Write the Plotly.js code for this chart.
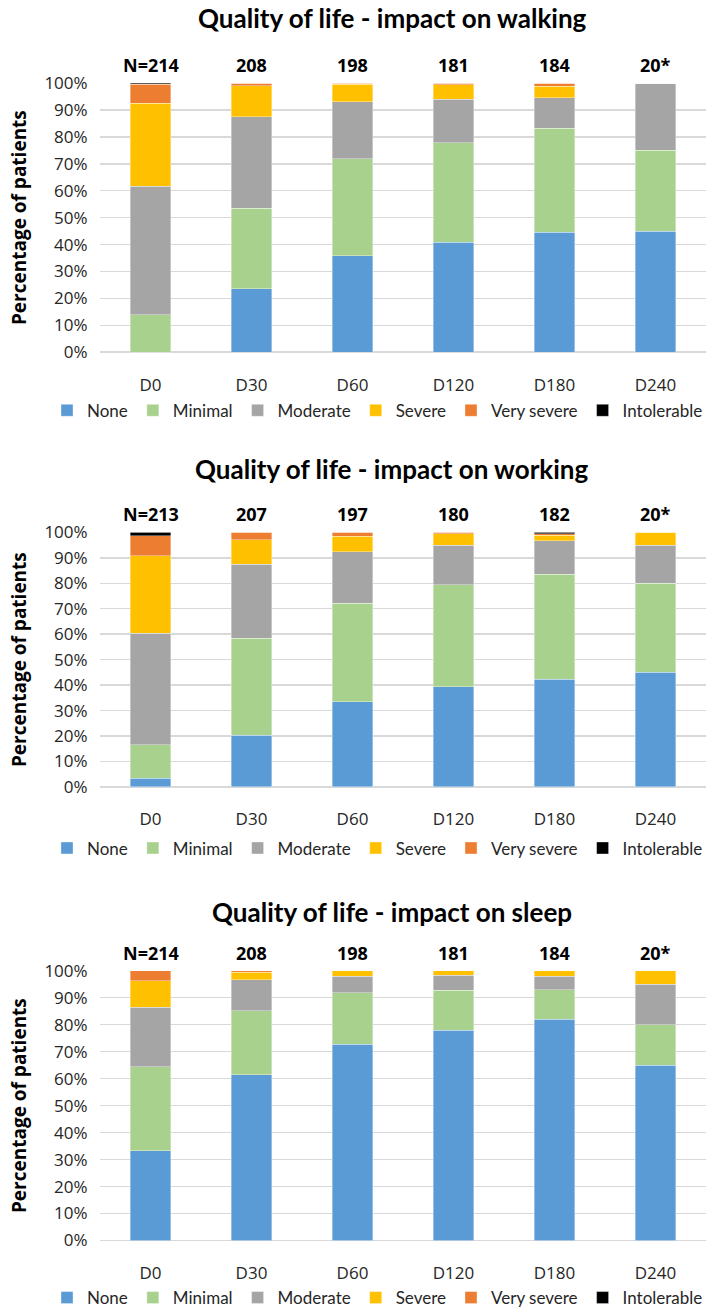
<!DOCTYPE html>
<html>
<head>
<meta charset="utf-8">
<script src="https://cdn.plot.ly/plotly-3.0.1.min.js"></script>
<style>html,body{margin:0;padding:0;background:#fff;}#chart{width:708px;height:1316px;}</style>
</head>
<body>
<div id="chart"></div>
<script>
// ---------- DATA ----------
const categories = ['D0', 'D30', 'D60', 'D120', 'D180', 'D240'];
const levels = ['None', 'Minimal', 'Moderate', 'Severe', 'Very severe', 'Intolerable'];
const chartTitles = ['Quality of life - impact on walking', 'Quality of life - impact on working', 'Quality of life - impact on sleep'];

const walkingN = ['N=214', '208', '198', '181', '184', '20*'];
const walkingNone = [0, 23.6, 35.9, 40.9, 44.6, 45];
const walkingMinimal = [14.0, 29.8, 35.9, 37.0, 38.6, 30];
const walkingModerate = [47.7, 34.1, 21.2, 16.0, 11.4, 25];
const walkingSevere = [30.8, 11.5, 6.5, 5.5, 4.3, 0];
const walkingVerySevere = [7.0, 1.0, 0.5, 0.6, 1.1, 0];
const walkingIntolerable = [0.5, 0, 0, 0, 0, 0];

const workingN = ['N=213', '207', '197', '180', '182', '20*'];
const workingNone = [3.3, 20.3, 33.5, 39.4, 42.3, 45];
const workingMinimal = [13.3, 38.2, 38.6, 40.0, 41.2, 35];
const workingModerate = [43.7, 29.0, 20.3, 15.6, 13.2, 15];
const workingSevere = [30.5, 9.7, 6.1, 4.4, 2.2, 5];
const workingVerySevere = [7.9, 2.8, 1.5, 0.6, 0.5, 0];
const workingIntolerable = [1.3, 0, 0, 0, 0.6, 0];

const sleepN = ['N=214', '208', '198', '181', '184', '20*'];
const sleepNone = [33.2, 61.5, 72.7, 77.9, 82.1, 65];
const sleepMinimal = [31.3, 23.6, 19.2, 14.9, 10.9, 15];
const sleepModerate = [21.9, 11.5, 6.1, 5.5, 4.9, 15];
const sleepSevere = [9.8, 2.9, 2.0, 1.7, 2.1, 5];
const sleepVerySevere = [3.8, 0.5, 0, 0, 0, 0];
const sleepIntolerable = [0, 0, 0, 0, 0, 0];

// ---------- STYLE ----------
const colors = ['#5B9BD5', '#A9D18E', '#A5A5A5', '#FFC000', '#ED7D31', '#000000'];
const H = 1316, W = 708;
const py = px => 1 - px / H;

const charts = [
  {series: [walkingNone, walkingMinimal, walkingModerate, walkingSevere, walkingVerySevere, walkingIntolerable], n: walkingN,
   top: 83.3, bottom: 353.3, titleY: 18, legendY: 412},
  {series: [workingNone, workingMinimal, workingModerate, workingSevere, workingVerySevere, workingIntolerable], n: workingN,
   top: 534, bottom: 789.3, titleY: 470, legendY: 851},
  {series: [sleepNone, sleepMinimal, sleepModerate, sleepSevere, sleepVerySevere, sleepIntolerable], n: sleepN,
   top: 973.7, bottom: 1244.3, titleY: 915, legendY: 1302}
];

const tickFont = {family: 'Open Sans, Noto Sans, sans-serif', size: 17, color: '#262626'};
const traces = [];
const layout = {
  width: W, height: H,
  margin: {l: 0, r: 0, t: 0, b: 0},
  paper_bgcolor: '#fff', plot_bgcolor: '#fff',
  barmode: 'stack', bargap: 0.6,
  annotations: [],
  showlegend: true
};

charts.forEach((c, i) => {
  const sfx = i === 0 ? '' : String(i + 1);
  const xa = 'x' + sfx, ya = 'y' + sfx, lg = 'legend' + sfx;
  c.series.forEach((vals, k) => {
    traces.push({
      type: 'bar', x: categories, y: vals.map(v => v / 100), name: levels[k],
      xaxis: xa, yaxis: ya, legend: lg,
      marker: {color: colors[k], line: {width: 0.6, color: 'rgba(255,255,255,0.6)'}},
      hoverinfo: 'name+y'
    });
  });
  layout['xaxis' + sfx] = {
    domain: [100 / W, 706 / W], anchor: ya,
    type: 'category', showgrid: false, zeroline: false, showline: false,
    ticks: 'outside', ticklen: 17, tickcolor: 'rgba(0,0,0,0)',
    tickfont: tickFont, fixedrange: true
  };
  layout['yaxis' + sfx] = {
    domain: [py(c.bottom), py(c.top)], anchor: xa,
    range: [0, 1], tickformat: '.0%', dtick: 0.1,
    showgrid: true, gridcolor: '#D9D9D9', gridwidth: 1.5,
    zeroline: true, zerolinecolor: '#D9D9D9', zerolinewidth: 1.5,
    showline: false, ticks: 'outside', ticklen: 8, tickcolor: 'rgba(0,0,0,0)',
    tickfont: tickFont, fixedrange: true,
    title: {text: 'Percentage of patients', standoff: 12,
            font: {family: 'Open Sans, Noto Sans, sans-serif', size: 19, color: '#000', weight: 'bold'}}
  };
  layout[lg] = {
    orientation: 'h', x: 1, xanchor: 'right', y: py(c.legendY), yanchor: 'middle',
    font: {family: 'Lato, sans-serif', size: 17, color: '#262626'},
    bgcolor: 'rgba(0,0,0,0)', traceorder: 'normal', itemwidth: 30
  };
  layout.annotations.push({
    text: '<b>' + chartTitles[i] + '</b>', xref: 'paper', yref: 'paper',
    x: 392 / W, y: py(c.titleY), xanchor: 'center', yanchor: 'middle', showarrow: false,
    font: {family: 'Lato, sans-serif', size: 26, color: '#000'}
  });
  categories.forEach((cat, j) => {
    layout.annotations.push({
      text: '<b>' + c.n[j] + '</b>', xref: xa, yref: ya,
      x: cat, y: 1, yanchor: 'bottom', yshift: 4, showarrow: false,
      font: {family: 'Open Sans, Noto Sans, sans-serif', size: 18, color: '#000'}
    });
  });
});

Plotly.newPlot('chart', traces, layout, {staticPlot: true, displayModeBar: false});
</script>
</body>
</html>
